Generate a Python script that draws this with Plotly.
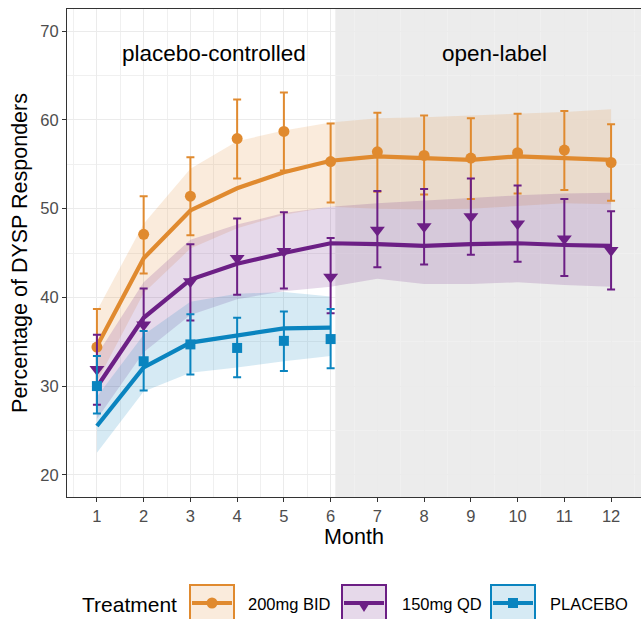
import plotly.graph_objects as go

# ---------------- data ----------------
months = [1, 2, 3, 4, 5, 6, 7, 8, 9, 10, 11, 12]
months_pbo = [1, 2, 3, 4, 5, 6]

bid_obs = [34.4, 47.1, 51.4, 57.9, 58.7, 55.3, 56.4, 56.0, 55.7, 56.3, 56.6, 55.2]
bid_hi = [38.7, 51.4, 55.8, 62.3, 63.1, 59.6, 60.8, 60.5, 60.2, 60.7, 61.0, 59.5]
bid_lo = [30.2, 42.7, 47.0, 53.4, 54.3, 50.7, 51.9, 51.6, 51.1, 51.7, 52.1, 50.9]
bid_fit = [34.5, 44.4, 49.8, 52.3, 54.1, 55.4, 55.9, 55.7, 55.5, 55.9, 55.7, 55.5]
bid_rib_lo = [30.5, 40.5, 45.5, 47.8, 49.3, 50.2, 50.0, 49.9, 50.0, 50.3, 50.6, 50.5]
bid_rib_hi = [38.5, 48.3, 54.5, 57.6, 58.8, 59.7, 60.2, 60.3, 60.5, 60.7, 60.9, 61.2]

qd_obs = [31.9, 36.9, 41.8, 44.4, 45.2, 42.3, 47.6, 48.0, 49.1, 48.3, 46.6, 45.3]
qd_hi = [35.8, 41.0, 46.0, 48.9, 49.6, 46.7, 52.0, 52.2, 53.4, 52.6, 51.1, 49.7]
qd_lo = [27.9, 32.5, 37.4, 40.3, 41.0, 38.2, 43.4, 43.7, 44.8, 44.0, 42.4, 40.9]
qd_fit = [29.9, 37.7, 42.0, 43.8, 45.0, 46.1, 46.0, 45.8, 46.0, 46.1, 45.9, 45.8]
qd_rib_lo = [26.3, 33.8, 38.0, 39.8, 40.7, 41.2, 42.1, 41.5, 41.5, 41.7, 41.4, 41.2]
qd_rib_hi = [33.5, 41.7, 46.5, 48.2, 49.5, 50.2, 50.6, 50.9, 51.2, 51.5, 51.7, 51.8]

pbo_obs = [30.0, 32.8, 34.7, 34.3, 35.1, 35.3]
pbo_hi = [33.4, 36.2, 38.1, 37.7, 38.4, 38.7]
pbo_lo = [26.9, 29.5, 31.3, 31.0, 31.7, 32.0]
pbo_fit = [25.5, 32.1, 34.9, 35.7, 36.5, 36.6]
pbo_rib_lo = [22.5, 29.4, 31.5, 32.1, 32.8, 33.4]
pbo_rib_hi = [28.8, 35.8, 39.5, 40.4, 40.6, 40.1]

groups = ["200mg BID", "150mg QD", "PLACEBO"]
colors = ["#E08A2F", "#6C1F85", "#0A84BF"]
fills = ["rgba(224,138,47,0.17)", "rgba(108,31,133,0.17)", "rgba(10,132,191,0.17)"]
symbols = ["circle", "triangle-down", "square"]
msizes = [11, 13, 10]

xs = [months, months, months_pbo]
obs = [bid_obs, qd_obs, pbo_obs]
his = [bid_hi, qd_hi, pbo_hi]
los = [bid_lo, qd_lo, pbo_lo]
fits = [bid_fit, qd_fit, pbo_fit]
rlos = [bid_rib_lo, qd_rib_lo, pbo_rib_lo]
rhis = [bid_rib_hi, qd_rib_hi, pbo_rib_hi]

phase_labels = ["placebo-controlled", "open-label"]
phase_x = [3.5, 9.5]
phase_y = [67.5, 67.5]
open_start = 6.1

FONT = "Liberation Sans, Arial, Helvetica, sans-serif"

fig = go.Figure()

# ribbons
for i in range(3):
    x = xs[i]
    fig.add_trace(go.Scatter(
        x=list(x) + list(x[::-1]),
        y=list(rhis[i]) + list(rlos[i][::-1]),
        fill="toself", fillcolor=fills[i], line=dict(width=0),
        mode="lines", hoverinfo="skip", showlegend=False))

# fitted lines
for i in range(3):
    fig.add_trace(go.Scatter(
        x=xs[i], y=fits[i], mode="lines",
        line=dict(color=colors[i], width=4.2), showlegend=False))

# observed points with error bars
for i in range(3):
    fig.add_trace(go.Scatter(
        x=xs[i], y=obs[i], mode="markers",
        marker=dict(symbol=symbols[i], size=msizes[i], color=colors[i],
                    line=dict(width=0)),
        error_y=dict(type="data", symmetric=False,
                     array=[h - o for h, o in zip(his[i], obs[i])],
                     arrayminus=[o - l for o, l in zip(obs[i], los[i])],
                     color=colors[i], thickness=2, width=4),
        name=groups[i], showlegend=False))

# open-label shaded region
fig.add_shape(type="rect", xref="x", yref="paper", x0=open_start, x1=13,
              y0=0, y1=1, fillcolor="rgba(0,0,0,0.075)", line=dict(width=0),
              layer="between")

for lbl, px, py in zip(phase_labels, phase_x, phase_y):
    fig.add_annotation(x=px, y=py, xref="x", yref="y", text=lbl,
                       showarrow=False, font=dict(size=22.5, color="black", family=FONT))

# ---------------- manual legend (ggplot style keys) ----------------
W, H = 641, 619
L, R, T, B = 67, 0, 9, 122
pw, ph = W - L - R, H - T - B


def px2x(p):
    return (p - L) / pw


def py2y(p):
    return (H - B - p) / ph


fig.add_annotation(x=px2x(179), y=py2y(604), xref="paper", yref="paper",
                   text="Treatment", showarrow=False, xanchor="right", yanchor="middle",
                   font=dict(size=21, color="black", family=FONT))
key_left = [190, 342, 491]
label_left = [246, 400, 548]
key_w, key_top, key_bot = 44, 585, 621
for i in range(3):
    x0, x1 = key_left[i], key_left[i] + key_w
    fig.add_shape(type="rect", xref="paper", yref="paper",
                  x0=px2x(x0), x1=px2x(x1), y0=py2y(key_bot), y1=py2y(key_top),
                  fillcolor=fills[i], line=dict(color=colors[i], width=2))
    yc = py2y(603)
    fig.add_shape(type="line", xref="paper", yref="paper",
                  x0=px2x(x0 + 2), x1=px2x(x1 - 2), y0=yc, y1=yc,
                  line=dict(color=colors[i], width=4))
    xc = px2x((x0 + x1) / 2)
    if i == 0:
        fig.add_shape(type="circle", xref="paper", yref="paper",
                      xsizemode="pixel", ysizemode="pixel", xanchor=xc, yanchor=yc,
                      x0=-5.5, x1=5.5, y0=-5.5, y1=5.5,
                      fillcolor=colors[i], line=dict(width=0))
    elif i == 1:
        fig.add_shape(type="path", xref="paper", yref="paper",
                      xsizemode="pixel", ysizemode="pixel", xanchor=xc, yanchor=yc,
                      path="M -7 2 L 7 2 L 0 -9 Z",
                      fillcolor=colors[i], line=dict(width=0))
    else:
        fig.add_shape(type="rect", xref="paper", yref="paper",
                      xsizemode="pixel", ysizemode="pixel", xanchor=xc, yanchor=yc,
                      x0=-5, x1=5, y0=-5, y1=5,
                      fillcolor=colors[i], line=dict(width=0))
    fig.add_annotation(x=px2x(label_left[i]), y=py2y(604), xref="paper", yref="paper",
                       text=groups[i], showarrow=False, xanchor="left", yanchor="middle",
                       font=dict(size=16.5, color="black", family=FONT))

axis_common = dict(showline=True, linecolor="#333333", linewidth=1, mirror=True,
                   ticks="outside", ticklen=4, tickcolor="#333333", tickwidth=1,
                   showgrid=True, gridcolor="#EBEBEB", gridwidth=1.2, zeroline=False,
                   tickfont=dict(size=16.5, color="#4D4D4D", family=FONT))

fig.update_layout(
    width=W, height=H, autosize=False,
    margin=dict(l=L, r=R, t=T, b=B),
    plot_bgcolor="white", paper_bgcolor="white",
    showlegend=False,
    xaxis=dict(range=[0.36, 12.64], tickvals=months, ticktext=[str(m) for m in months],
               minor=dict(tick0=0, dtick=0.5, showgrid=True, gridcolor="#F0F0F0",
                          gridwidth=0.8, ticks=""),
               title=dict(text="Month", font=dict(size=21.5, color="black", family=FONT),
                          standoff=4),
               **axis_common),
    yaxis=dict(range=[17.5, 72.5], tickvals=[20, 30, 40, 50, 60, 70],
               minor=dict(tick0=0, dtick=5, showgrid=True, gridcolor="#F0F0F0",
                          gridwidth=0.8, ticks=""),
               title=dict(text="Percentage of DYSP Responders",
                          font=dict(size=21.5, color="black", family=FONT), standoff=6),
               **axis_common),
)

fig.write_html("out.html")
